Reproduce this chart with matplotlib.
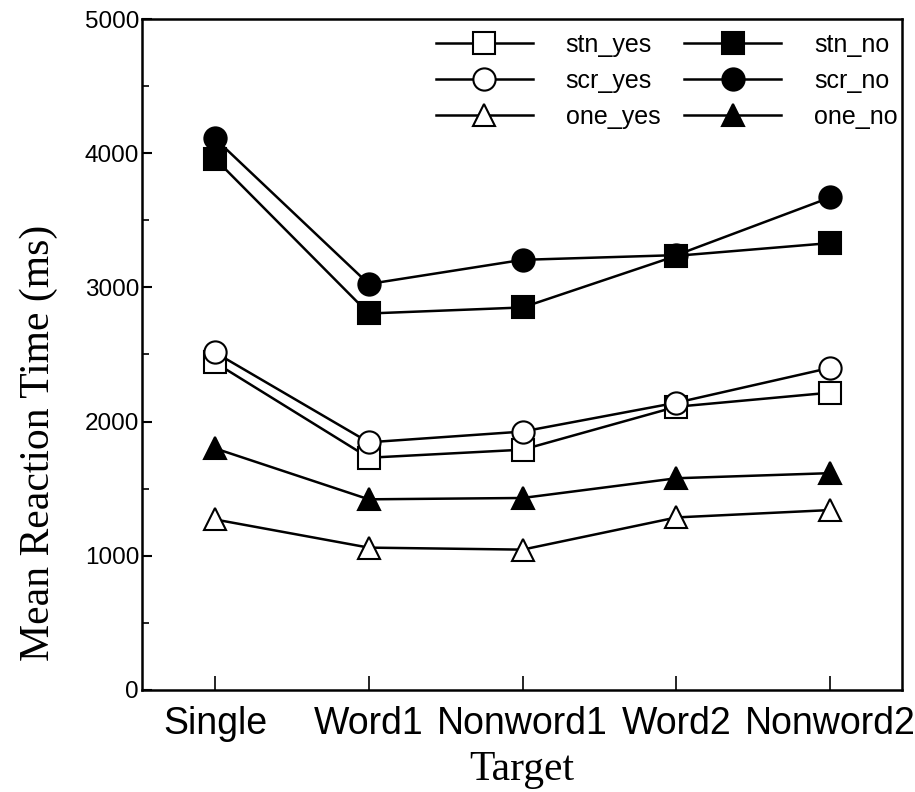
import matplotlib
matplotlib.use("Agg")
import matplotlib.pyplot as plt
from matplotlib.ticker import MultipleLocator

targets = ["Single", "Word1", "Nonword1", "Word2", "Nonword2"]
stn_yes = [2440, 1730, 1790, 2110, 2215]
scr_yes = [2515, 1845, 1925, 2140, 2400]
one_yes = [1270, 1060, 1045, 1285, 1340]
stn_no = [3960, 2805, 2850, 3235, 3330]
scr_no = [4110, 3025, 3205, 3240, 3670]
one_no = [1800, 1420, 1430, 1577, 1615]

series = [
    ("stn_yes", stn_yes, "s", "white"),
    ("scr_yes", scr_yes, "o", "white"),
    ("one_yes", one_yes, "^", "white"),
    ("stn_no", stn_no, "s", "black"),
    ("scr_no", scr_no, "o", "black"),
    ("one_no", one_no, "^", "black"),
]

fig = plt.figure(figsize=(9.15, 7.92), dpi=100)
ax = fig.add_axes([0.155, 0.129, 0.831, 0.847])

x = list(range(len(targets)))
for name, vals, m, fc in series:
    ax.plot(x, vals, color="black", lw=1.8, marker=m, markersize=16,
            markerfacecolor=fc, markeredgecolor="black", markeredgewidth=1.5,
            label=name)

ax.set_xlim(-0.475, 4.468)
ax.set_ylim(0, 5000)
ax.set_xticks(x)
ax.set_xticklabels(targets, fontfamily="Liberation Sans", fontsize=27)
ax.yaxis.set_major_locator(MultipleLocator(1000))
ax.yaxis.set_minor_locator(MultipleLocator(500))
for lab in ax.get_yticklabels():
    lab.set_fontfamily("Liberation Sans")
    lab.set_fontsize(17.5)
ax.tick_params(axis="y", which="major", direction="in", length=7, width=1.5, pad=2)
ax.tick_params(axis="y", which="minor", direction="in", length=5, width=1.2)
ax.tick_params(axis="x", direction="in", length=10, width=1.2, pad=12)
for sp in ax.spines.values():
    sp.set_linewidth(1.8)

ax.set_xlabel("Target", fontfamily="Liberation Serif", fontsize=30, labelpad=6)
ax.set_ylabel("Mean Reaction Time (ms)", fontfamily="Liberation Serif", fontsize=30)
ax.yaxis.set_label_coords(-0.11, 0.368)

leg = ax.legend(ncol=2, loc="upper right", bbox_to_anchor=(1.012, 1.0), frameon=False,
                prop={"family": "Liberation Sans", "size": 18}, handlelength=3.9,
                handletextpad=1.3, columnspacing=0.95, labelspacing=0.48, numpoints=1,
                borderaxespad=0.15)

fig.savefig("out.png", dpi=100)
